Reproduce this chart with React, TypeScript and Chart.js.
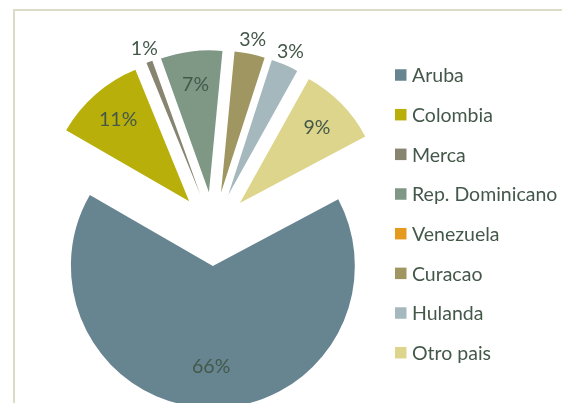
import React, { useEffect, useRef } from "react";
import { Chart, registerables } from "chart.js";

Chart.register(...registerables);

const categories = [
  "Aruba",
  "Colombia",
  "Merca",
  "Rep. Dominicano",
  "Venezuela",
  "Curacao",
  "Hulanda",
  "Otro pais",
];
const shares = [66.1, 10.5, 0.7, 7.0, 0, 3.45, 3.1, 9.15];
const colors = [
  "#678591",
  "#B8AF0B",
  "#878470",
  "#7F9886",
  "#E39A1E",
  "#A09661",
  "#A5B8BE",
  "#DDD58B",
];

const TEXT_COLOR = "#44584A";
const FONT_FAMILY = "Lato, 'Open Sans', sans-serif";
const EXPLODE = 37;
const RADIUS = 142;
const FIRST_SLICE_ANGLE = 62;

const LEGEND_X = 395;
const LEGEND_Y0 = 75;
const LEGEND_STEP = 39.67;
const LEGEND_BOX = 11.5;
const LEGEND_FONT = 19.5;
const LABEL_FONT = 19.5;

const explodePlugin = {
  id: "explodeSlices",
  beforeDatasetDraw(chart: any, args: any) {
    const meta = args.meta;
    meta.data.forEach((arc: any) => {
      arc._ox = arc.x;
      arc._oy = arc.y;
      const mid = (arc.startAngle + arc.endAngle) / 2;
      arc.x = arc._ox + EXPLODE * Math.cos(mid);
      arc.y = arc._oy + EXPLODE * Math.sin(mid);
    });
  },
  afterDatasetDraw(chart: any, args: any) {
    const meta = args.meta;
    const ctx = chart.ctx;
    const values = chart.data.datasets[args.index].data as number[];
    const total = values.reduce((a, b) => a + b, 0);
    ctx.save();
    ctx.font = `${LABEL_FONT}px ${FONT_FAMILY}`;
    ctx.fillStyle = TEXT_COLOR;
    ctx.textAlign = "center";
    ctx.textBaseline = "middle";
    meta.data.forEach((arc: any, i: number) => {
      const v = values[i];
      if (!v) return;
      const pct = Math.round((v / total) * 100);
      const mid = (arc.startAngle + arc.endAngle) / 2;
      const R = arc.outerRadius;
      const r = pct < 5 ? R * 1.1 : pct > 50 ? R * 0.71 : R * 0.76;
      ctx.fillText(pct + "%", arc.x + r * Math.cos(mid), arc.y + r * Math.sin(mid));
    });
    ctx.restore();
    meta.data.forEach((arc: any) => {
      arc.x = arc._ox;
      arc.y = arc._oy;
    });
  },
};

const legendPlugin = {
  id: "sideLegend",
  afterDraw(chart: any) {
    const ctx = chart.ctx;
    const labels = chart.data.labels as string[];
    const bg = chart.data.datasets[0].backgroundColor as string[];
    ctx.save();
    ctx.font = `${LEGEND_FONT}px ${FONT_FAMILY}`;
    ctx.textAlign = "left";
    ctx.textBaseline = "middle";
    labels.forEach((lab, i) => {
      const cy = LEGEND_Y0 + i * LEGEND_STEP;
      ctx.fillStyle = bg[i];
      ctx.fillRect(LEGEND_X, cy - LEGEND_BOX / 2, LEGEND_BOX, LEGEND_BOX);
      ctx.fillStyle = TEXT_COLOR;
      ctx.fillText(lab, LEGEND_X + 17, cy + 1);
    });
    ctx.restore();
  },
};

export default function App() {
  const canvasRef = useRef<HTMLCanvasElement | null>(null);

  useEffect(() => {
    if (!canvasRef.current) return;
    const chart = new Chart(canvasRef.current, {
      type: "pie",
      data: {
        labels: categories,
        datasets: [
          {
            data: shares,
            backgroundColor: colors,
            borderWidth: 0,
            radius: RADIUS,
            rotation: FIRST_SLICE_ANGLE,
            clip: false,
          } as any,
        ],
      },
      options: {
        animation: false,
        responsive: true,
        maintainAspectRatio: false,
        events: [],
        layout: { padding: { left: 0, right: 135, top: 0, bottom: 0 } },
        plugins: {
          legend: { display: false },
          tooltip: { enabled: false },
        },
      },
      plugins: [explodePlugin, legendPlugin],
    });
    return () => chart.destroy();
  }, []);

  return (
    <div
      style={{
        position: "fixed",
        left: 0,
        top: 0,
        width: 562,
        height: 403,
        overflow: "hidden",
        background: "#ffffff",
      }}
    >
      <div
        style={{
          position: "absolute",
          left: 13,
          top: 9,
          width: 600,
          height: 500,
          border: "2px solid #DCDCC6",
          boxSizing: "border-box",
        }}
      />
      <div style={{ position: "absolute", left: 0, top: 0, width: 562, height: 458 }}>
        <canvas ref={canvasRef} />
      </div>
    </div>
  );
}
